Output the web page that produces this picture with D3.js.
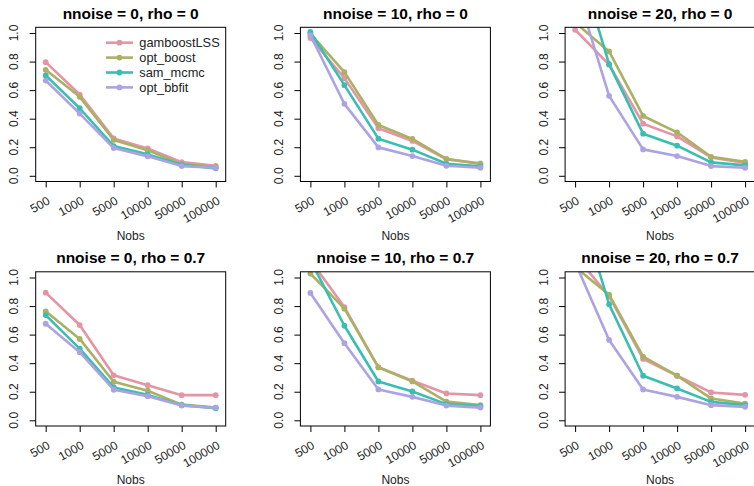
<!DOCTYPE html>
<html>
<head>
<meta charset="utf-8">
<script src="https://cdn.jsdelivr.net/npm/d3@7"></script>
<style>
    body { margin: 0; background: #fff; }
    text { font-family: "Liberation Sans", Arial, sans-serif; }
</style>
</head>
<body>
<div id="chart"></div>
<script>
// x categories and panel titles
var nobs = ["500", "1000", "5000", "10000", "50000", "100000"];
var titles = ["nnoise = 0, rho = 0", "nnoise = 10, rho = 0", "nnoise = 20, rho = 0",
              "nnoise = 0, rho = 0.7", "nnoise = 10, rho = 0.7", "nnoise = 20, rho = 0.7"];
var yTicks = [0, 0.2, 0.4, 0.6, 0.8, 1.0];
var methods = ["gamboostLSS", "opt_boost", "sam_mcmc", "opt_bbfit"];
var colors = ["#E495A5", "#ABB065", "#39BEB1", "#ACA4E2"];

// one row per panel, one value per nobs
var gamboostLSS = [
    [0.796, 0.569, 0.262, 0.192, 0.096, 0.070],
    [0.965, 0.684, 0.333, 0.244, 0.115, 0.087],
    [1.023, 0.778, 0.365, 0.276, 0.129, 0.090],
    [0.894, 0.667, 0.315, 0.246, 0.176, 0.176],
    [1.120, 0.793, 0.371, 0.277, 0.188, 0.176],
    [1.154, 0.870, 0.430, 0.312, 0.195, 0.178]
];
var opt_boost = [
    [0.742, 0.553, 0.251, 0.178, 0.082, 0.063],
    [0.995, 0.726, 0.356, 0.258, 0.119, 0.082],
    [1.073, 0.871, 0.419, 0.304, 0.133, 0.098],
    [0.763, 0.570, 0.270, 0.207, 0.110, 0.089],
    [1.028, 0.782, 0.371, 0.272, 0.131, 0.106],
    [1.074, 0.880, 0.446, 0.312, 0.153, 0.117]
];
var sam_mcmc = [
    [0.703, 0.473, 0.208, 0.150, 0.077, 0.052],
    [1.007, 0.635, 0.260, 0.183, 0.084, 0.066],
    [1.576, 0.782, 0.295, 0.211, 0.094, 0.073],
    [0.737, 0.502, 0.230, 0.178, 0.106, 0.085],
    [1.120, 0.662, 0.272, 0.202, 0.113, 0.099],
    [1.600, 0.812, 0.312, 0.223, 0.129, 0.106]
];
var opt_bbfit = [
    [0.667, 0.436, 0.194, 0.136, 0.068, 0.056],
    [0.984, 0.504, 0.199, 0.138, 0.070, 0.056],
    [1.336, 0.560, 0.185, 0.138, 0.068, 0.056],
    [0.676, 0.477, 0.214, 0.169, 0.103, 0.089],
    [0.892, 0.540, 0.216, 0.164, 0.103, 0.089],
    [1.106, 0.563, 0.216, 0.164, 0.106, 0.094]
];
var seriesData = [gamboostLSS, opt_boost, sam_mcmc, opt_bbfit];

(function() {
    var svgWidth = 754;
    var svgHeight = 486;
    var svg = d3.select('#chart').append('svg')
        .attr("width", svgWidth)
        .attr("height", svgHeight);

    var boxW = 190;
    var boxH = 154.2;
    var colStep = 264.7;
    var rowStep = 244.5;

    titles.forEach(function(title, p) {
        var col = p % 3;
        var row = Math.floor(p / 3);
        var left = 35.7 + col * colStep;
        var top = 27.3 + row * rowStep;
        var right = left + boxW;
        var bottom = top + boxH;

        var x = d3.scaleLinear().domain([0, nobs.length - 1]).range([left + 10, right - 10]);
        var y = d3.scaleLinear().domain([-0.04, 1.04]).range([bottom, top]);

        var g = svg.append('g');

        // clip lines to the plot region like R does
        g.append('clipPath').attr('id', 'clip' + p)
            .append('rect')
            .attr('x', left).attr('y', top)
            .attr('width', boxW).attr('height', boxH);

        var line = d3.line()
            .x(function(d, i) { return x(i); })
            .y(function(d) { return y(d); });

        var plot = g.append('g').attr('clip-path', 'url(#clip' + p + ')');
        seriesData.forEach(function(s, k) {
            plot.append('path')
                .datum(s[p])
                .attr('d', line)
                .attr('fill', 'none')
                .attr('stroke', colors[k])
                .attr('stroke-width', 2.6)
                .attr('stroke-linejoin', 'round');
            plot.selectAll('.pt' + k)
                .data(s[p])
                .enter().append('circle')
                .attr('cx', function(d, i) { return x(i); })
                .attr('cy', function(d) { return y(d); })
                .attr('r', 2.9)
                .attr('fill', colors[k]);
        });

        // box
        g.append('rect')
            .attr('x', left).attr('y', top)
            .attr('width', boxW).attr('height', boxH)
            .attr('fill', 'none')
            .attr('stroke', '#000')
            .attr('stroke-width', 1);

        // y axis
        var yAxis = d3.axisLeft(y).tickValues(yTicks).tickSize(6).tickFormat('');
        var ya = g.append('g').attr('transform', 'translate(' + left + ',0)').call(yAxis);
        ya.select('.domain').remove();
        ya.selectAll('line').attr('stroke', '#000');
        g.selectAll('.ylab')
            .data(yTicks)
            .enter().append('text')
            .attr('transform', function(d) { return 'translate(' + (left - 17.5) + ',' + y(d) + ') rotate(-90)'; })
            .attr('text-anchor', 'middle')
            .attr('font-size', 12)
            .attr('fill', '#222')
            .text(function(d) { return d3.format('.1f')(d); });

        // x axis
        var xAxis = d3.axisBottom(x).tickValues(d3.range(nobs.length)).tickSize(6).tickFormat('');
        var xa = g.append('g').attr('transform', 'translate(0,' + bottom + ')').call(xAxis);
        xa.select('.domain').remove();
        xa.selectAll('line').attr('stroke', '#000');
        g.selectAll('.xlab')
            .data(nobs)
            .enter().append('text')
            .attr('transform', function(d, i) { return 'translate(' + (x(i) + 5) + ',' + (bottom + 21.7) + ') rotate(-30)'; })
            .attr('text-anchor', 'end')
            .attr('font-size', 12)
            .attr('fill', '#222')
            .text(function(d) { return d; });

        g.append('text')
            .attr('x', (left + right) / 2)
            .attr('y', bottom + 58)
            .attr('text-anchor', 'middle')
            .attr('font-size', 12)
            .attr('fill', '#222')
            .text('Nobs');

        // title
        g.append('text')
            .attr('x', (left + right) / 2)
            .attr('y', top - 8.8)
            .attr('text-anchor', 'middle')
            .attr('font-size', 15.5)
            .attr('font-weight', 'bold')
            .text(title);

        // legend only in first panel
        if (p === 0) {
            methods.forEach(function(m, k) {
                var ly = 42.7 + k * 14.9;
                g.append('line')
                    .attr('x1', 106).attr('x2', 133)
                    .attr('y1', ly).attr('y2', ly)
                    .attr('stroke', colors[k])
                    .attr('stroke-width', 2.6);
                g.append('circle')
                    .attr('cx', 119.5).attr('cy', ly)
                    .attr('r', 2.9)
                    .attr('fill', colors[k]);
                g.append('text')
                    .attr('x', 139.3).attr('y', ly + 4.5)
                    .attr('font-size', 12.8)
                    .attr('fill', '#222')
                    .text(m);
            });
        }
    });
})();
</script>
</body>
</html>
